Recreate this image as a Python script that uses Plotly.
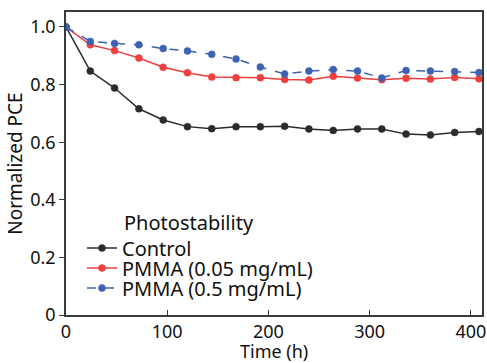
import plotly.graph_objects as go

# Aging time (h) and normalized PCE for each device type
time_h = [0, 24, 48, 72, 96, 120, 144, 168, 192, 216, 240, 264, 288, 312, 336, 360, 384, 408]
control = [1.0, 0.847, 0.788, 0.716, 0.677, 0.654, 0.647, 0.654, 0.654, 0.655, 0.646, 0.641,
           0.646, 0.646, 0.628, 0.625, 0.634, 0.637]
pmma_005 = [1.0, 0.938, 0.918, 0.892, 0.860, 0.841, 0.826, 0.824, 0.824, 0.818, 0.816, 0.829,
            0.823, 0.817, 0.822, 0.819, 0.825, 0.820]
pmma_05 = [1.0, 0.950, 0.943, 0.938, 0.925, 0.917, 0.905, 0.889, 0.861, 0.837, 0.847, 0.852,
           0.847, 0.823, 0.849, 0.847, 0.845, 0.842]

series_names = ["Control", "PMMA (0.05 mg/mL)", "PMMA (0.5 mg/mL)"]
x_ticks = [0, 100, 200, 300, 400]
y_ticks = [0, 0.2, 0.4, 0.6, 0.8, 1.0]
y_tick_text = ["0", "0.2", "0.4", "0.6", "0.8", "1.0"]

FONT = "Noto Sans"
TICK_FS = 18
TITLE_FS = 19
LEG_FS = 20
AX = "#3a3a3a"

# plot-area geometry in pixels (used to place the legend rows)
W, H = 487, 363
ML, MR, MT, MB = 66, 5, 12, 48
PW, PH = W - ML - MR, H - MT - MB


def py(pix_y):
    """Convert a pixel row to paper y."""
    return (H - MB - pix_y) / PH


fig = go.Figure()
styles = [
    (control, "#2b2b2b", "solid"),
    (pmma_005, "#ef3e3e", "solid"),
    (pmma_05, "#3d62b3", "dash"),
]
legend_ids = ["legend", "legend2", "legend3"]
for name, (vals, col, dash), lg in zip(series_names, styles, legend_ids):
    fig.add_trace(go.Scatter(
        x=time_h, y=vals, name=name, mode="lines+markers", legend=lg,
        line=dict(color=col, width=1.5, dash=dash),
        marker=dict(symbol="circle", size=7, color=col,
                    line=dict(color=col, width=0.5)),
    ))

fig.add_annotation(
    text="Photostability", xref="paper", yref="paper",
    x=(122 - ML) / PW, y=py(222.5), xanchor="left", yanchor="middle",
    showarrow=False, font=dict(family=FONT, size=LEG_FS, color="#111"),
)

# x-axis title, set just under the tick labels
fig.add_annotation(
    text="Time (h)", xref="paper", yref="paper",
    x=0.5, y=py(351), xanchor="center", yanchor="middle",
    showarrow=False, font=dict(family=FONT, size=18, color="#111"),
)

legend_style = dict(
    x=(82 - ML) / PW, xanchor="left", yanchor="middle",
    bgcolor="rgba(0,0,0,0)", borderwidth=0,
    font=dict(family=FONT, size=LEG_FS, color="#111"),
    itemwidth=30, tracegroupgap=0,
)

fig.update_layout(
    width=W, height=H,
    margin=dict(l=ML, r=MR, t=MT, b=MB),
    paper_bgcolor="white", plot_bgcolor="white",
    font=dict(family=FONT, size=TICK_FS, color="#111"),
    showlegend=True,
    legend=dict(y=py(248), **legend_style),
    legend2=dict(y=py(268), **legend_style),
    legend3=dict(y=py(288), **legend_style),
    xaxis=dict(
        range=[0, 411], tickvals=x_ticks, ticks="inside", ticklen=5, tickwidth=1.2,
        tickcolor=AX, showline=True, linecolor=AX, linewidth=1.5, mirror=True,
        showgrid=False, zeroline=False, automargin=False,
        tickfont=dict(size=TICK_FS),
    ),
    yaxis=dict(
        range=[0, 1.052], tickvals=y_ticks, ticktext=y_tick_text, ticks="outside",
        ticklen=5, tickwidth=1.2, tickcolor=AX, showline=True, linecolor=AX,
        linewidth=1.5, mirror=True, showgrid=False, zeroline=False, automargin=False,
        title=dict(text="Normalized PCE", font=dict(size=TITLE_FS), standoff=3),
        tickfont=dict(size=TICK_FS),
    ),
)

fig.write_html("out.html")
